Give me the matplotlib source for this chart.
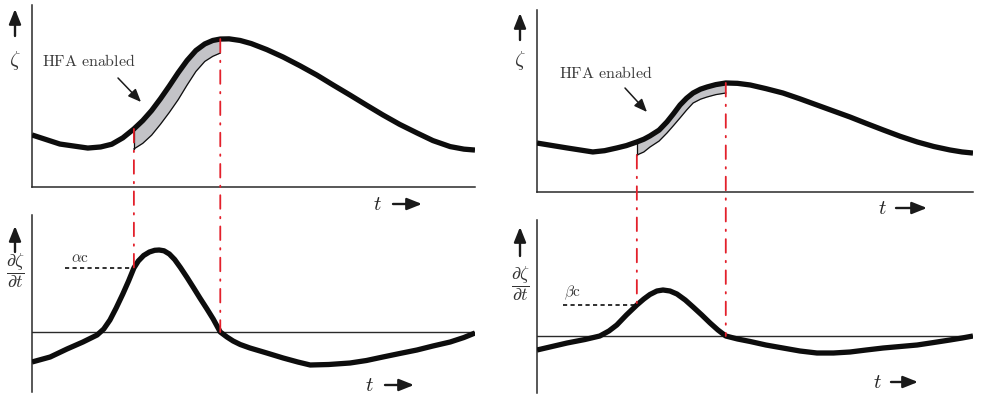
import matplotlib
matplotlib.use("Agg")
import matplotlib.pyplot as plt
from matplotlib.patches import ConnectionPatch, FancyArrowPatch

plt.rcParams["mathtext.fontset"] = "cm"

# ---- left scenario: level zeta(t) and its slope ----
t_lvl_a = [0.00, 0.63, 1.26, 1.55, 1.80, 2.05, 2.30, 2.50, 2.70, 2.90, 3.10, 3.30,
           3.50, 3.70, 3.90, 4.08, 4.25, 4.45, 4.70, 4.95, 5.30, 5.67, 6.05, 6.43,
           6.80, 7.18, 7.55, 7.92, 8.30, 8.69, 9.05, 9.44, 9.75, 10.0]
z_lvl_a = [2.86, 2.36, 2.14, 2.20, 2.35, 2.70, 3.19, 3.65, 4.20, 4.85, 5.55, 6.28,
           6.95, 7.50, 7.86, 8.05, 8.13, 8.14, 8.05, 7.88, 7.55, 7.14, 6.66, 6.15,
           5.60, 5.05, 4.50, 3.96, 3.44, 2.97, 2.55, 2.22, 2.08, 2.03]
# inner edge of the shaded HFA band (t from 2.30 to 4.25)
lo_band_a = [2.09, 2.40, 2.85, 3.45, 4.10, 4.80, 5.60, 6.35, 6.90, 7.18, 7.36]
band_a = (6, 17)  # slice of the level series covered by the band

t_der_a = [0.00, 0.41, 0.79, 1.15, 1.47, 1.62, 1.76, 1.90, 2.05, 2.18, 2.30, 2.40,
           2.52, 2.65, 2.77, 2.87, 2.98, 3.10, 3.22, 3.35, 3.50, 3.65, 3.79, 3.95,
           4.09, 4.25, 4.40, 4.54, 4.70, 4.92, 5.30, 5.67, 6.00, 6.28, 6.70, 7.18,
           7.55, 7.92, 8.30, 8.69, 9.05, 9.44, 9.75, 10.0]
d_der_a = [-3.0, -2.5, -1.7, -1.0, -0.3, 0.3, 1.2, 2.4, 3.8, 5.1, 6.4, 7.1,
           7.65, 8.0, 8.17, 8.2, 8.12, 7.8, 7.25, 6.45, 5.45, 4.4, 3.4, 2.3,
           1.3, 0.0, -0.5, -0.9, -1.25, -1.6, -2.1, -2.6, -3.0, -3.3, -3.25, -3.1,
           -2.85, -2.5, -2.15, -1.8, -1.4, -1.0, -0.55, -0.1]
alpha_c = 6.4
t_on_a, t_off_a = 2.30, 4.25

# ---- right scenario ----
t_lvl_b = [0.00, 0.69, 1.28, 1.55, 1.83, 2.05, 2.29, 2.45, 2.59, 2.80, 2.98, 3.13,
           3.28, 3.43, 3.58, 3.75, 3.90, 4.10, 4.33, 4.60, 4.89, 5.25, 5.64, 6.03,
           6.42, 6.80, 7.18, 7.55, 7.94, 8.33, 8.72, 9.10, 9.47, 9.75, 10.0]
z_lvl_b = [2.69, 2.42, 2.20, 2.27, 2.42, 2.55, 2.75, 2.90, 3.08, 3.40, 3.85, 4.30,
           4.78, 5.15, 5.44, 5.65, 5.77, 5.90, 5.99, 5.97, 5.88, 5.68, 5.44, 5.12,
           4.78, 4.45, 4.12, 3.77, 3.41, 3.06, 2.75, 2.50, 2.31, 2.20, 2.14]
lo_band_b = [2.03, 2.20, 2.47, 2.80, 3.24, 3.65, 4.07, 4.50, 4.89, 5.10, 5.22,
             5.35, 5.44]
band_b = (6, 19)

t_der_b = [0.00, 0.69, 1.10, 1.44, 1.65, 1.83, 2.05, 2.29, 2.45, 2.59, 2.75, 2.89,
           3.05, 3.21, 3.40, 3.58, 3.78, 3.97, 4.15, 4.33, 4.60, 4.89, 5.25, 5.64,
           6.03, 6.42, 6.80, 7.18, 7.55, 7.94, 8.33, 8.72, 9.10, 9.47, 9.75, 10.0]
d_der_b = [-1.4, -0.7, -0.35, 0.0, 0.5, 1.1, 2.1, 3.1, 3.7, 4.15, 4.5, 4.6,
           4.5, 4.2, 3.6, 2.9, 2.1, 1.3, 0.6, 0.0, -0.3, -0.55, -0.9, -1.2,
           -1.5, -1.7, -1.7, -1.6, -1.4, -1.2, -1.05, -0.9, -0.65, -0.4, -0.2, 0.0]
beta_c = 3.1
t_on_b, t_off_b = 2.29, 4.33

W, H = 985, 395
fig = plt.figure(figsize=(W / 100, H / 100), dpi=100)


def box(x0, y0, x1, y1):
    return [x0 / W, 1 - y1 / H, (x1 - x0) / W, (y1 - y0) / H]


def fp(x, y):
    return (x / W, 1 - y / H)


ax_ta = fig.add_axes(box(32, 5, 475, 187))
ax_ba = fig.add_axes(box(32, 215, 475, 392))
ax_tb = fig.add_axes(box(537, 10, 973, 192))
ax_bb = fig.add_axes(box(537, 220, 973, 393))

CURVE = "#0d0d0d"
RED = "#e3202b"
AXC = "#2a2a2a"
red_dash = (0, (7.5, 4.5, 0.8, 4.5))

for ax in (ax_ta, ax_ba, ax_tb, ax_bb):
    ax.set_xlim(0, 10)
    ax.set_xticks([])
    ax.set_yticks([])
    ax.patch.set_alpha(0)
    for s in ("top", "right"):
        ax.spines[s].set_visible(False)
    ax.spines["left"].set_color(AXC)
    ax.spines["left"].set_linewidth(1.1)
    ax.spines["bottom"].set_color(AXC)
    ax.spines["bottom"].set_linewidth(1.1)

ax_ta.set_ylim(0, 10)
ax_tb.set_ylim(0, 10)
ax_ba.set_ylim(-6.0, 11.7)
ax_bb.set_ylim(-5.7, 11.6)
for ax in (ax_ba, ax_bb):
    ax.spines["bottom"].set_visible(False)
    ax.axhline(0, color=AXC, lw=1.0, zorder=1)

line_kw = dict(color=CURVE, lw=3.8, solid_capstyle="butt", solid_joinstyle="round",
               zorder=5)


def level_panel(ax, t, z, band, lo):
    i0, i1 = band
    tb, up = t[i0:i1], z[i0:i1]
    ax.fill_between(tb, lo, up, color="#c3c3c7", lw=0, zorder=2)
    ax.plot(tb, lo, color=CURVE, lw=0.9, zorder=3)
    ax.plot([tb[0], tb[0]], [lo[0], up[0]], color=CURVE, lw=0.9, zorder=3)
    ax.plot(t, z, **line_kw)
    return up


up_a = level_panel(ax_ta, t_lvl_a, z_lvl_a, band_a, lo_band_a)
up_b = level_panel(ax_tb, t_lvl_b, z_lvl_b, band_b, lo_band_b)

ax_ba.plot(t_der_a, d_der_a, **line_kw)
ax_bb.plot(t_der_b, d_der_b, **line_kw)

# threshold markers
ax_ba.plot([0.74, t_on_a], [alpha_c, alpha_c], color=CURVE, lw=1.2,
           ls=(0, (2.5, 2.0)), zorder=4)
ax_ba.text(0.88, alpha_c + 1.0, r"$\alpha\mathrm{c}$", fontsize=11,
           color="#333333", ha="left", va="center")
ax_bb.plot([0.60, t_on_b], [beta_c, beta_c], color=CURVE, lw=1.2,
           ls=(0, (2.5, 2.0)), zorder=4)
ax_bb.text(0.62, beta_c + 1.2, r"$\beta\mathrm{c}$", fontsize=11,
           color="#333333", ha="left", va="center")

# dash-dot guides linking the level and slope plots
guides = [
    (ax_ta, ax_ba, t_on_a, up_a[0], alpha_c),
    (ax_ta, ax_ba, t_off_a, up_a[-1], 0.0),
    (ax_tb, ax_bb, t_on_b, lo_band_b[0], beta_c),
    (ax_tb, ax_bb, t_off_b, up_b[-1], 0.0),
]
for a_top, a_bot, tt, ztop, dbot in guides:
    con = ConnectionPatch(xyA=(tt, ztop), coordsA=a_top.transData,
                          xyB=(tt, dbot), coordsB=a_bot.transData,
                          color=RED, lw=1.3, ls=red_dash, zorder=4)
    fig.add_artist(con)

# axis labels and arrows
arrow_kw = dict(arrowstyle="-|>,head_length=0.6,head_width=0.24", color="#1a1a1a",
                lw=1.7, shrinkA=0, shrinkB=0, mutation_scale=15)


def arrow(p0, p1, **kw):
    fig.add_artist(FancyArrowPatch(fp(*p0), fp(*p1), transform=fig.transFigure, **kw))


arrow((15, 36), (15, 9), **arrow_kw)
arrow((15, 252), (15, 226), **arrow_kw)
arrow((520, 40), (520, 13), **arrow_kw)
arrow((520, 256), (520, 227), **arrow_kw)

fig.text(*fp(15, 61), r"$\zeta$", fontsize=15, color="#333333", ha="center", va="center")
fig.text(*fp(520, 61), r"$\zeta$", fontsize=15, color="#333333", ha="center", va="center")
fig.text(*fp(16, 271), r"$\dfrac{\partial\zeta}{\partial t}$", fontsize=13,
         color="#333333", ha="center", va="center")
fig.text(*fp(521, 284), r"$\dfrac{\partial\zeta}{\partial t}$", fontsize=13,
         color="#333333", ha="center", va="center")

for tx, ty, x0, x1 in [(377, 204, 393, 422), (369, 385, 385, 414),
                       (882, 208, 896, 927), (877, 382, 891, 918)]:
    fig.text(*fp(tx, ty), r"$t$", fontsize=15, color="#222222", ha="center", va="center")
    arrow((x0, ty), (x1, ty), **arrow_kw)

# "HFA enabled" callouts
hfa_kw = dict(arrowstyle="-|>,head_length=0.6,head_width=0.25", color="#1a1a1a",
              lw=1.1, shrinkA=0, shrinkB=0, mutation_scale=13)
fig.text(*fp(89, 61), r"$\mathrm{HFA\ enabled}$", fontsize=11.5, color="#3a3a3a",
         ha="center", va="center")
arrow((118, 78), (141, 102), **hfa_kw)
fig.text(*fp(606, 73), r"$\mathrm{HFA\ enabled}$", fontsize=11.5, color="#3a3a3a",
         ha="center", va="center")
arrow((625, 88), (647, 112), **hfa_kw)

fig.savefig("out.png", dpi=100)
